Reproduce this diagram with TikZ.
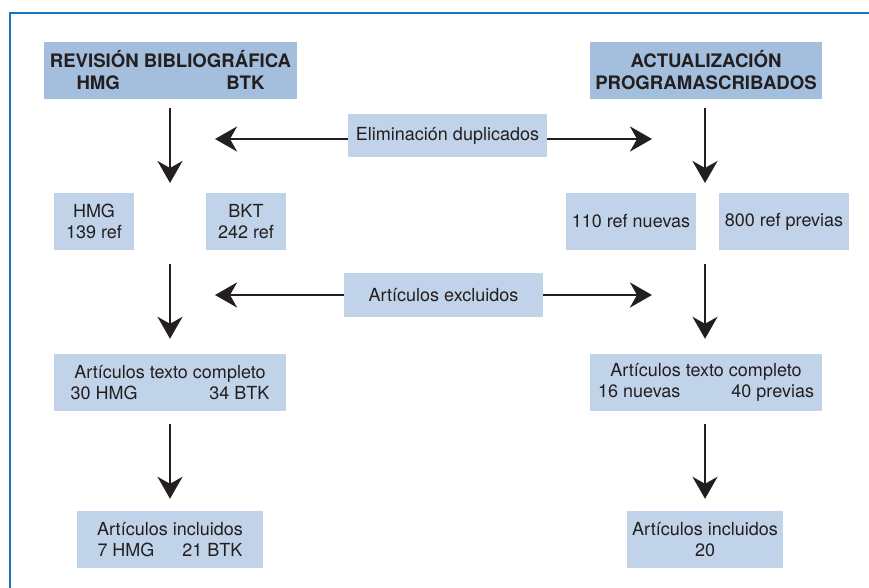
\documentclass[tikz,border=0pt]{standalone}
\usepackage{fontspec}
\setmainfont{TeX Gyre Heros}
\usetikzlibrary{arrows.meta}
\definecolor{boxc}{HTML}{C0D3E8}
\definecolor{hdrc}{HTML}{A4BFDD}
\definecolor{txtc}{HTML}{231F20}
\definecolor{bordc}{HTML}{1A75BC}
\tikzset{
  box/.style={fill=boxc, inner sep=0pt, text=txtc, align=center,
    font=\fontsize{18}{21.5}\selectfont},
  hdr/.style={fill=hdrc, inner sep=0pt, text=txtc, align=center,
    font=\bfseries\fontsize{18.6}{22}\selectfont},
  arr/.style={-{Stealth[length=22pt,width=25pt,inset=7pt]}, line width=2.6pt, draw=txtc},
}
\begin{document}
\begin{tikzpicture}[x=1pt,y=-1pt]
\useasboundingbox (0,0) rectangle (869,588);
\draw[bordc, line width=1.8pt] (10,588) -- (10,13) -- (869,13);
% headers
\node[hdr, minimum width=253pt, minimum height=57pt] (hdrL) at (170.5,70.5)
  {REVISIÓN BIBLIOGRÁFICA\\\makebox[188pt]{HMG\hfill BTK}};
\node[hdr, minimum width=232pt, minimum height=57pt] (hdrR) at (706,70.5)
  {ACTUALIZACIÓN\\PROGRAMASCRIBADOS};
% middle labels
\node[box, minimum width=199pt, minimum height=43pt] (elim) at (447.5,135.5) {Eliminación duplicados};
\node[box, minimum width=199pt, minimum height=44pt] (excl) at (443.5,295) {Artículos excluidos};
% row 2
\node[box, minimum width=80pt, minimum height=57pt] (hmg) at (94,221.5) {HMG\\139 ref};
\node[box, minimum width=80pt, minimum height=57pt] (bkt) at (246,221.5) {BKT\\242 ref};
\node[box, minimum width=130pt, minimum height=57pt] (nuevas) at (631,221.5) {110 ref nuevas};
\node[box, minimum width=130pt, minimum height=57pt] (previas) at (784,221.5) {800 ref previas};
% row 3
\node[box, minimum width=232pt, minimum height=57pt] (tcL) at (170,382.5)
  {Artículos texto completo\\\makebox[199pt]{30 HMG\hfill 34 BTK}};
\node[box, minimum width=232pt, minimum height=57pt] (tcR) at (706,382.5)
  {Artículos texto completo\\\makebox[216pt]{16 nuevas\hfill 40 previas}};
% row 4
\node[box, minimum width=186pt, minimum height=57pt] (incL) at (170,539.5)
  {Artículos incluidos\\\makebox[145pt]{7 HMG\hfill 21 BTK}};
\node[box, minimum width=156pt, minimum height=57pt] (incR) at (705,539.5)
  {Artículos incluidos\\20};
% coordinates
\coordinate (j1L) at (170,183);
\coordinate (j1R) at (705,183);
\coordinate (j2L) at (170,264);
\coordinate (j2R) at (705,264);
\coordinate (eL) at (215,139);
\coordinate (eR) at (652,139);
\coordinate (xL) at (215,295);
\coordinate (xR) at (652,295);
% vertical arrows
\draw[arr, shorten <=9pt] (hdrL.south -| j1L) -- (j1L);
\draw[arr, shorten <=9pt] (hdrR.south -| j1R) -- (j1R);
\draw[arr, shorten >=15pt] (j2L) -- (tcL.north -| j2L);
\draw[arr, shorten >=15pt] (j2R) -- (tcR.north -| j2R);
\draw[arr, shorten <=13pt, shorten >=12pt] (tcL.south) -- (incL.north);
\draw[arr, shorten <=13pt, shorten >=12pt] (tcR.south -| incR.north) -- (incR.north);
% horizontal arrows
\draw[arr] (elim.west |- eL) -- (eL);
\draw[arr] (elim.east |- eR) -- (eR);
\draw[arr] (excl.west) -- (xL);
\draw[arr] (excl.east) -- (xR);
\end{tikzpicture}
\end{document}
